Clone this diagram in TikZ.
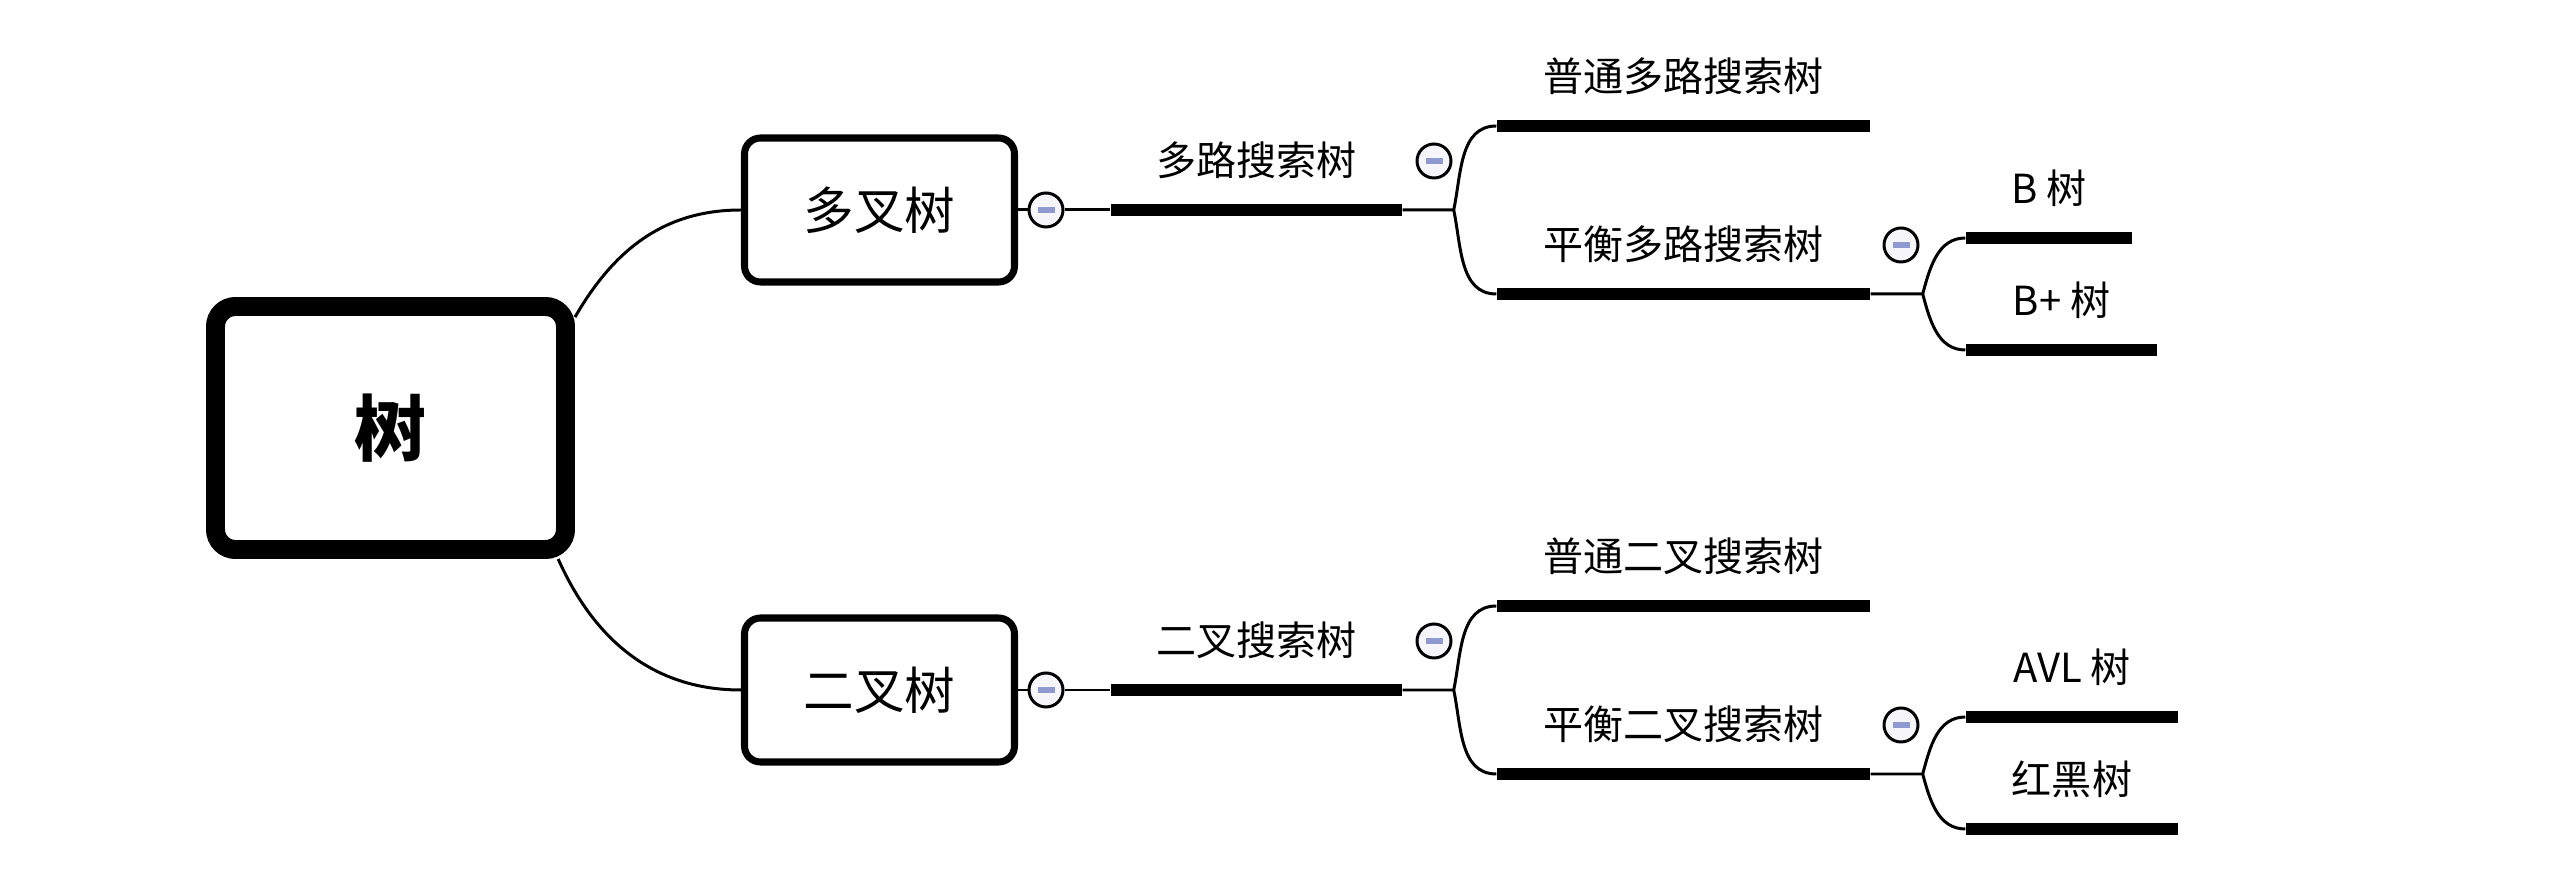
\documentclass[tikz,border=0pt]{standalone}
\usepackage{fontspec}
\usepackage{tikz}
\usepackage{xcolor}
\usetikzlibrary{positioning}

\newfontfamily\cjk{Noto Sans CJK SC}
\definecolor{foldfill}{HTML}{F5F5FA}
\definecolor{foldblue}{HTML}{8E9AD0}
\newcommand{\foldmark}{\textcolor{foldblue}{\rule{0.17cm}{0.055cm}}}

\begin{document}
\begin{tikzpicture}[
  rootbox/.style={draw=black, line width=5.4pt, rounded corners=0.2cm, fill=white, minimum width=3.5cm, minimum height=2.43cm, font=\cjk\bfseries\fontsize{20.5}{24}\selectfont},
  subbox/.style={draw=black, line width=2pt, rounded corners=0.16cm, fill=white, minimum width=2.7cm, minimum height=1.44cm, font=\cjk\fontsize{14.4}{17}\selectfont},
  fold/.style={circle, draw=black, line width=0.85pt, fill=foldfill, minimum size=0.34cm, inner sep=0pt},
  bar/.style={fill=black, inner sep=0pt, minimum height=0.117cm},
  topic/.style={font=\cjk\fontsize{11.4}{13}\selectfont, inner sep=0pt, text height=0.33cm, text depth=0.07cm},
  link/.style={draw=black, line width=0.85pt},
]
\useasboundingbox (0, 0) rectangle (25.54, -8.9);

% --- root ---
\node[rootbox] (root) at (3.905, -4.28) {树};

% --- first level ---
\node[subbox] (mtree) at (8.795, -2.10) {多叉树};
\node[subbox] (btree) at (8.795, -6.90) {二叉树};
\draw[link] (root.31) to[out=60, in=180] (mtree.west);
\draw[link] (root.-38) to[out=-66, in=180] (btree.west);

% --- multiway search trees ---
\node[fold] (mc1) at (10.46, -2.10) {\foldmark};
\node[bar, minimum width=2.91cm] (mst) at (12.565, -2.10) {};
\node[topic, above=0.2cm of mst] {多路搜索树};
\node[fold] (mc2) at (14.34, -1.61) {\foldmark};
\draw[link] (mtree.east) -- (mc1.west) (mc1.east) -- (mst.west);

\node[bar, minimum width=3.73cm] (gm) at (16.835, -1.26) {};
\node[topic, above=0.2cm of gm] {普通多路搜索树};
\node[bar, minimum width=3.73cm] (bm) at (16.835, -2.94) {};
\node[topic, above=0.2cm of bm] {平衡多路搜索树};
\coordinate[right=0.51cm of mst] (mj);
\draw[link] (mst.east) -- (mj) to[out=78, in=180] (gm.west);
\draw[link] (mj) to[out=-78, in=180] (bm.west);

\node[fold] (mc3) at (19.01, -2.45) {\foldmark};
\node[bar, minimum width=1.66cm] (bt) at (20.49, -2.38) {};
\node[topic, above=0.2cm of bt] {B 树};
\node[bar, minimum width=1.91cm] (bpt) at (20.615, -3.50) {};
\node[topic, above=0.2cm of bpt] {B+ 树};
\coordinate[right=0.52cm of bm] (bj);
\draw[link] (bm.east) -- (bj) to[out=75, in=180] (bt.west);
\draw[link] (bj) to[out=-75, in=180] (bpt.west);

% --- binary search trees ---
\node[fold] (bc1) at (10.46, -6.90) {\foldmark};
\node[bar, minimum width=2.91cm] (bst) at (12.565, -6.90) {};
\node[topic, above=0.2cm of bst] {二叉搜索树};
\node[fold] (bc2) at (14.34, -6.41) {\foldmark};
\draw[link] (btree.east) -- (bc1.west) (bc1.east) -- (bst.west);

\node[bar, minimum width=3.73cm] (gb) at (16.835, -6.06) {};
\node[topic, above=0.2cm of gb] {普通二叉搜索树};
\node[bar, minimum width=3.73cm] (bb) at (16.835, -7.74) {};
\node[topic, above=0.2cm of bb] {平衡二叉搜索树};
\coordinate[right=0.51cm of bst] (sj);
\draw[link] (bst.east) -- (sj) to[out=78, in=180] (gb.west);
\draw[link] (sj) to[out=-78, in=180] (bb.west);

\node[fold] (bc3) at (19.01, -7.25) {\foldmark};
\node[bar, minimum width=2.12cm] (avl) at (20.72, -7.17) {};
\node[topic, above=0.2cm of avl] {AVL 树};
\node[bar, minimum width=2.12cm] (rb) at (20.72, -8.29) {};
\node[topic, above=0.2cm of rb] {红黑树};
\coordinate[right=0.52cm of bb] (aj);
\draw[link] (bb.east) -- (aj) to[out=75, in=180] (avl.west);
\draw[link] (aj) to[out=-75, in=180] (rb.west);

\end{tikzpicture}
\end{document}
